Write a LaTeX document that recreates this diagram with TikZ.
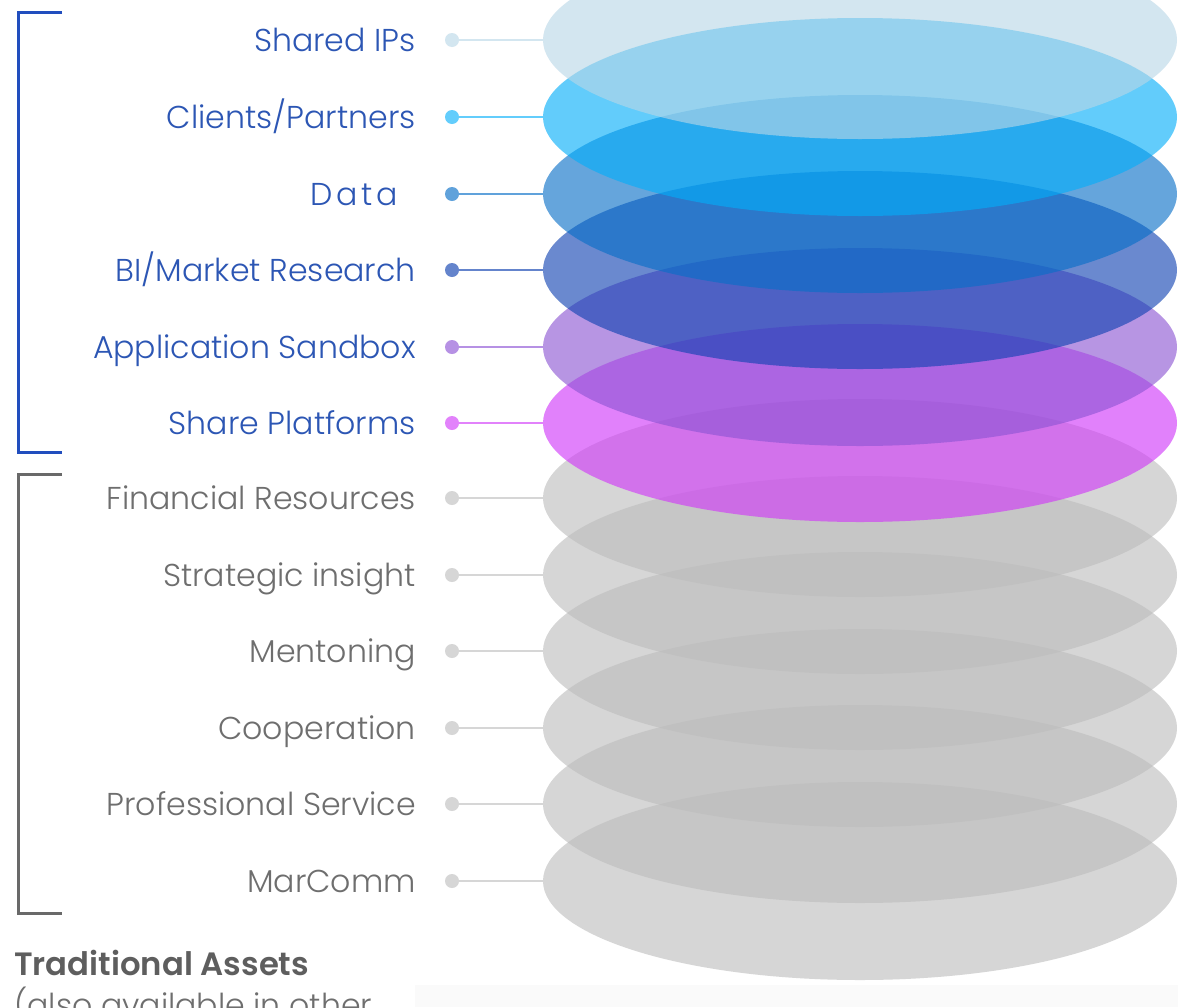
\documentclass[tikz,border=0pt]{standalone}
\usepackage{fontspec}
\setmainfont{Poppins}[UprightFont=* Light, BoldFont=* SemiBold]
\usetikzlibrary{shapes.geometric}
\definecolor{cShared}{RGB}{184,215,231}
\definecolor{cClients}{RGB}{3,174,250}
\definecolor{cData}{RGB}{7,111,200}
\definecolor{cBI}{RGB}{15,66,178}
\definecolor{cApp}{RGB}{140,84,211}
\definecolor{cShare}{RGB}{208,53,249}
\definecolor{cGray}{RGB}{189,189,189}
\definecolor{dShared}{RGB}{211,230,240}
\definecolor{dClients}{RGB}{99,205,252}
\definecolor{dData}{RGB}{96,162,219}
\definecolor{dBI}{RGB}{100,132,204}
\definecolor{dApp}{RGB}{182,145,228}
\definecolor{dShare}{RGB}{226,130,251}
\definecolor{dGray}{RGB}{214,214,214}
\definecolor{txtBlue}{RGB}{44,86,180}
\definecolor{txtGray}{RGB}{110,110,110}
\definecolor{brBlue}{RGB}{33,78,190}
\definecolor{brGray}{RGB}{105,105,105}
\definecolor{boldGray}{RGB}{94,94,94}
\definecolor{band}{RGB}{250,250,250}
\tikzset{
  layer/.style={ellipse, draw=none, inner sep=0pt, minimum width=634pt, minimum height=198pt, fill opacity=0.62},
  dot/.style={circle, draw=none, inner sep=0pt, minimum size=14pt},
  conn/.style={line width=2.6pt},
  lbl/.style={anchor=base east, inner sep=0pt, font=\fontsize{31.6}{36}\selectfont},
  bracket/.style={line width=3pt},
}
\begin{document}
\begin{tikzpicture}[x=1pt,y=-1pt]
\useasboundingbox (0,0) rectangle (1178,1007);
\fill[white] (0,0) rectangle (1178,1007);
\fill[band] (415,985) rectangle (1178,1007);
% ellipses, bottom first
\node[layer, fill=cGray]    (e12) at (860,881) {};
\node[layer, fill=cGray]    (e11) at (860,804) {};
\node[layer, fill=cGray]    (e10) at (860,728) {};
\node[layer, fill=cGray]    (e9)  at (860,651) {};
\node[layer, fill=cGray]    (e8)  at (860,575) {};
\node[layer, fill=cGray]    (e7)  at (860,498) {};
\node[layer, fill=cShare]   (e6)  at (860,423) {};
\node[layer, fill=cApp]     (e5)  at (860,347) {};
\node[layer, fill=cBI]      (e4)  at (860,270) {};
\node[layer, fill=cData]    (e3)  at (860,194) {};
\node[layer, fill=cClients] (e2)  at (860,117) {};
\node[layer, fill=cShared]  (e1)  at (860,40) {};
% dots
\node[dot, fill=dShared]  (d1)  at (452,40) {};
\node[dot, fill=dClients] (d2)  at (452,117) {};
\node[dot, fill=dData]    (d3)  at (452,194) {};
\node[dot, fill=dBI]      (d4)  at (452,270) {};
\node[dot, fill=dApp]     (d5)  at (452,347) {};
\node[dot, fill=dShare]   (d6)  at (452,423) {};
\node[dot, fill=dGray]    (d7)  at (452,498) {};
\node[dot, fill=dGray]    (d8)  at (452,575) {};
\node[dot, fill=dGray]    (d9)  at (452,651) {};
\node[dot, fill=dGray]    (d10) at (452,728) {};
\node[dot, fill=dGray]    (d11) at (452,804) {};
\node[dot, fill=dGray]    (d12) at (452,881) {};
% connectors
\draw[conn, dShared]  (d1.center) -- (e1.west);
\draw[conn, dClients] (d2.center) -- (e2.west);
\draw[conn, dData]    (d3.center) -- (e3.west);
\draw[conn, dBI]      (d4.center) -- (e4.west);
\draw[conn, dApp]     (d5.center) -- (e5.west);
\draw[conn, dShare]   (d6.center) -- (e6.west);
\draw[conn, dGray]    (d7.center) -- (e7.west);
\draw[conn, dGray]    (d8.center) -- (e8.west);
\draw[conn, dGray]    (d9.center) -- (e9.west);
\draw[conn, dGray]    (d10.center) -- (e10.west);
\draw[conn, dGray]    (d11.center) -- (e11.west);
\draw[conn, dGray]    (d12.center) -- (e12.west);
% labels
\node[lbl, txtBlue] (l1) at (416,51) {Shared IPs};
\node[lbl, txtBlue] (l2) at (416,128) {Clients/Partners};
\node[lbl, txtBlue] (l3) at (398,205) {\addfontfeature{LetterSpace=12}Data};
\node[lbl, txtBlue] (l4) at (416,281) {BI/Market Research};
\node[lbl, txtBlue] (l5) at (416,358) {Application Sandbox};
\node[lbl, txtBlue] (l6) at (416,434) {Share Platforms};
\node[lbl, txtGray] (l7) at (416,509) {Financial Resources};
\node[lbl, txtGray] (l8) at (416,586) {Strategic insight};
\node[lbl, txtGray] (l9) at (416,662) {Mentoning};
\node[lbl, txtGray] (l10) at (416,739) {Cooperation};
\node[lbl, txtGray] (l11) at (416,815) {Professional Service};
\node[lbl, txtGray] (l12) at (416,892) {MarComm};
% brackets
\draw[bracket, brBlue] (62,12) -- (18,12) -- (18,452) -- (62,452);
\draw[bracket, brGray] (62,474) -- (18,474) -- (18,913) -- (62,913);
% bottom text (cut by the lower edge, as in the reference)
\node[anchor=base west, inner sep=0pt, boldGray, font=\fontsize{32.3}{38}\bfseries] (t1) at (14,975) {Traditional Assets};
\node[anchor=base west, inner sep=0pt, txtGray, font=\fontsize{31.6}{36}\selectfont] (t2) at (14,1016) {(also available in other};
\end{tikzpicture}
\end{document}
